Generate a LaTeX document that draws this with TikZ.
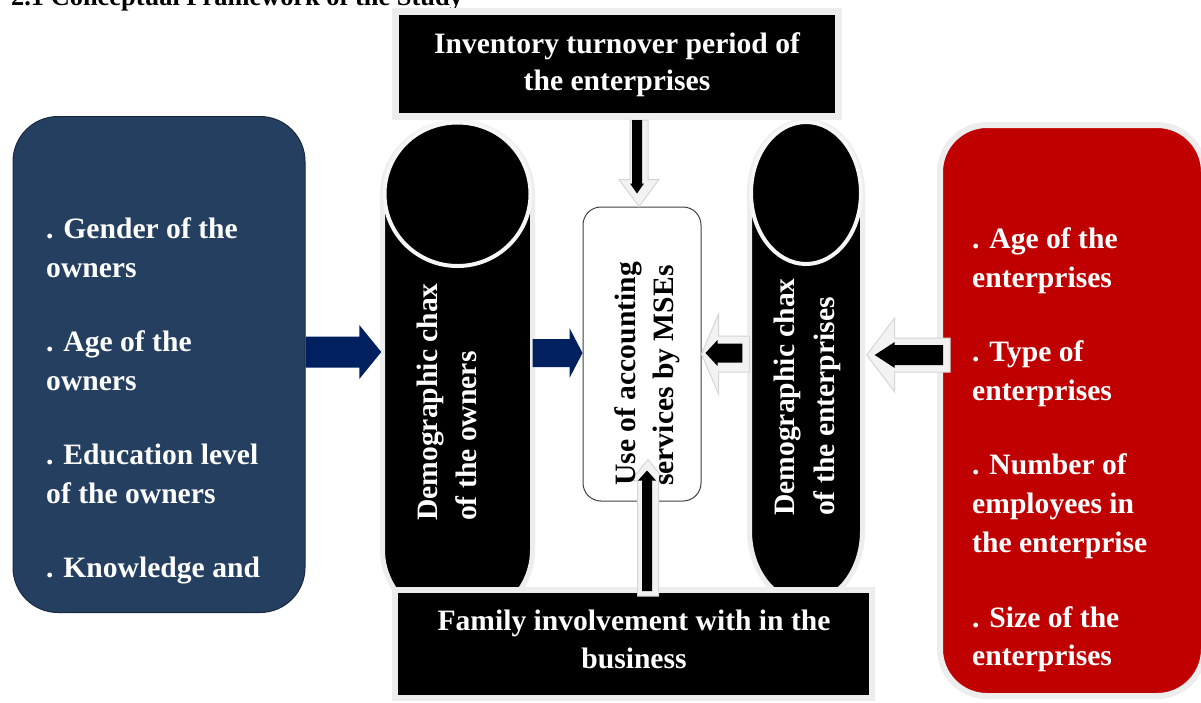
\documentclass[tikz,border=0pt]{standalone}
\usepackage{fontspec}
\setmainfont{Liberation Serif}
\usetikzlibrary{calc}
\definecolor{ownblue}{HTML}{243F60}
\definecolor{ownedge}{HTML}{1A2A40}
\definecolor{navyarrow}{HTML}{002060}
\definecolor{entred}{HTML}{C00000}
\definecolor{glow}{HTML}{EDEDED}
\definecolor{glowfill}{HTML}{F2F2F2}
\definecolor{glowedge}{HTML}{D6D6D6}
\definecolor{boxedge}{HTML}{404040}
% #1 style, #2 start, #3 tip, #4 shaft half width, #5 head half width, #6 head length
\newcommand\blockarrow[6]{%
  \path[#1] let \p1=(#2), \p2=(#3),
      \n1={atan2(\y2-\y1,\x2-\x1)},
      \n2={veclen(\x2-\x1,\y2-\y1)} in
    [shift={(\p1)}, rotate=\n1]
    (0,-#4) -- ({\n2-(#6)},-#4) -- ({\n2-(#6)},-#5) -- (\n2,0)
    -- ({\n2-(#6)},#5) -- ({\n2-(#6)},#4) -- (0,#4) -- cycle;}
\tikzset{
  wtxt/.style={text=white, font=\fontsize{29.6pt}{38pt}\selectfont\bfseries, inner sep=0pt},
  btxt/.style={text=black, font=\fontsize{29.6pt}{38pt}\selectfont\bfseries, inner sep=0pt},
  rwtxt/.style={wtxt, rotate=90, anchor=base west},
  rbtxt/.style={btxt, rotate=90, anchor=base west},
  glowbox/.style={fill=black, draw=glow, line width=7pt, inner sep=0pt},
  glowarrow/.style={fill=glowfill, draw=glowedge, line width=1pt},
  innerarrow/.style={fill=black},
  bluearrow/.style={fill=navyarrow},
  cylbody/.style={fill=black, draw=glow, line width=5pt},
  cylcap/.style={draw=glow!50!white, line width=4pt},
  anchorbox/.style={inner sep=0pt, draw=none},
}
\begin{document}
\begin{tikzpicture}[x=1pt,y=-1pt]
\useasboundingbox (0,0) rectangle (1201,702);
\fill[white] (0,0) rectangle (1201,702);

% helper coordinates
\coordinate (h352) at (0,352);
\coordinate (h353) at (0,353);
\coordinate (h354) at (0,354);
\coordinate (h355) at (0,355);
\coordinate (v637) at (637,0);
\coordinate (v639) at (639,0);
\coordinate (v647) at (647,0);
\coordinate (v648) at (648,0);

% title (cut by the top edge, as in the reference)
\node[anchor=base west, font=\fontsize{26.4pt}{30pt}\selectfont\bfseries, inner sep=0pt] (title) at (11,5) {2.1 Conceptual Framework of the Study};

% left box: owners
\node[fill=ownblue, draw=ownedge, line width=1pt, rounded corners=45pt,
      minimum width=292pt, minimum height=496pt, inner sep=0pt] (own) at (159,364.5) {};
\node[wtxt, anchor=base west] (o1) at (46,238) {. Gender of the};
\node[wtxt, anchor=base west] (o2) at (46,277) {owners};
\node[wtxt, anchor=base west] (o3) at (46,351) {. Age of the};
\node[wtxt, anchor=base west] (o4) at (46,390) {owners};
\node[wtxt, anchor=base west] (o5) at (46,464) {. Education level};
\node[wtxt, anchor=base west] (o6) at (46,503) {of the owners};
\node[wtxt, anchor=base west] (o7) at (46,577) {. Knowledge and};

% right box: enterprises
\node[fill=entred, draw=glow, line width=6pt, rounded corners=47pt,
      minimum width=264pt, minimum height=571pt, inner sep=0pt] (ent) at (1072,410.5) {};
\node[wtxt, anchor=base west] (e1) at (972,248) {. Age of the};
\node[wtxt, anchor=base west] (e2) at (972,287) {enterprises};
\node[wtxt, anchor=base west] (e3) at (972,361) {. Type of};
\node[wtxt, anchor=base west] (e4) at (972,400) {enterprises};
\node[wtxt, anchor=base west] (e5) at (972,474) {. Number of};
\node[wtxt, anchor=base west] (e6) at (972,513) {employees in};
\node[wtxt, anchor=base west] (e7) at (972,552) {the enterprise};
\node[wtxt, anchor=base west] (e8) at (972,627) {. Size of the};
\node[wtxt, anchor=base west] (e9) at (972,665) {enterprises};

% left cylinder
\node[anchorbox, minimum width=150pt, minimum height=502pt] (cylO) at (457.5,371) {};
\path[cylbody] (382.5,194) -- (382.5,550)
   arc[start angle=180, end angle=360, x radius=75pt, y radius=72pt]
   -- (532.5,194)
   arc[start angle=0, end angle=180, x radius=75pt, y radius=72pt] -- cycle;
\draw[cylcap] (457.5,194) ellipse [x radius=73pt, y radius=72pt];
\node[rwtxt] (cO1) at (437,521) {Demographic chax};
\node[rwtxt] (cO2) at (476,521) {of the owners};

% right cylinder
\node[anchorbox, minimum width=113pt, minimum height=482pt] (cylE) at (806,362) {};
\path[cylbody] (749.5,193) -- (749.5,531)
   arc[start angle=180, end angle=360, x radius=56.5pt, y radius=72pt]
   -- (862.5,193)
   arc[start angle=0, end angle=180, x radius=56.5pt, y radius=72pt] -- cycle;
\draw[cylcap] (806,193) ellipse [x radius=55pt, y radius=71pt];
\node[rwtxt] (cE1) at (794,516) {Demographic chax};
\node[rwtxt] (cE2) at (834,516) {of the enterprises};

% top box
\node[glowbox, minimum width=443pt, minimum height=105pt] (top) at (617,64) {};
\node[wtxt, anchor=base] (t1) at (617,53) {Inventory turnover period of};
\node[wtxt, anchor=base] (t2) at (617,90) {the enterprises};

% bottom box
\node[glowbox, line width=6pt, minimum width=477pt, minimum height=108pt] (bot) at (633.5,644) {};
\node[wtxt, anchor=base] (b1) at (634,630) {Family involvement with in the};
\node[wtxt, anchor=base] (b2) at (634,668) {business};

% centre box
\node[fill=white, draw=boxedge, line width=1pt, rounded corners=18pt,
      minimum width=118pt, minimum height=294pt, inner sep=0pt] (ctr) at (642,354) {};

% arrow end points
\coordinate (a1s) at (own.east |- h352);
\coordinate (a1e) at ($(cylO.west |- h352)+(-1,0)$);
\coordinate (a2s) at (cylO.east |- h353);
\coordinate (a2e) at (ctr.west |- h353);
\coordinate (a3s) at (top.south -| v639);
\coordinate (a3e) at (ctr.north -| v639);
\coordinate (a3is) at (top.south -| v637);
\coordinate (a3ie) at ($(ctr.north -| v637)+(0,-13)$);
\coordinate (a4s) at (cylE.west |- h354);
\coordinate (a4e) at (ctr.east |- h354);
\coordinate (a4is) at ($(cylE.west |- h353)+(-7,0)$);
\coordinate (a4ie) at ($(ctr.east |- h353)+(4,0)$);
\coordinate (a5s) at ($(ent.west |- h355)+(13,0)$);
\coordinate (a5e) at ($(cylE.east |- h355)+(4,0)$);
\coordinate (a5is) at ($(ent.west |- h355)+(6,0)$);
\coordinate (a5ie) at ($(cylE.east |- h355)+(12,0)$);
\coordinate (a6s) at ($(bot.north -| v648)+(0,9)$);
\coordinate (a6e) at ($(ctr.south -| v648)+(0,-42)$);
\coordinate (a6is) at ($(bot.north -| v647)+(0,4)$);
\coordinate (a6ie) at ($(ctr.south -| v647)+(0,-31)$);

% arrows
\blockarrow{bluearrow}{a1s}{a1e}{15.5}{27}{22}
\blockarrow{bluearrow}{a2s}{a2e}{14}{25}{13}
\blockarrow{glowarrow}{a3s}{a3e}{9}{20}{27}
\blockarrow{innerarrow}{a3is}{a3ie}{5}{7}{10}
\blockarrow{glowarrow}{a4s}{a4e}{18}{40}{17}
\blockarrow{innerarrow}{a4is}{a4ie}{9.5}{13}{12}
\blockarrow{glowarrow}{a5s}{a5e}{17}{37}{28}
\blockarrow{innerarrow}{a5is}{a5ie}{10}{13}{20}
\blockarrow{glowarrow}{a6s}{a6e}{10.5}{17}{21}
\blockarrow{innerarrow}{a6is}{a6ie}{5}{9}{10}

% centre text on top of the arrow tip
\node[rbtxt] (c1) at (635,486) {Use of accounting};
\node[rbtxt] (c2) at (673,486) {services by MSEs};
\end{tikzpicture}
\end{document}
